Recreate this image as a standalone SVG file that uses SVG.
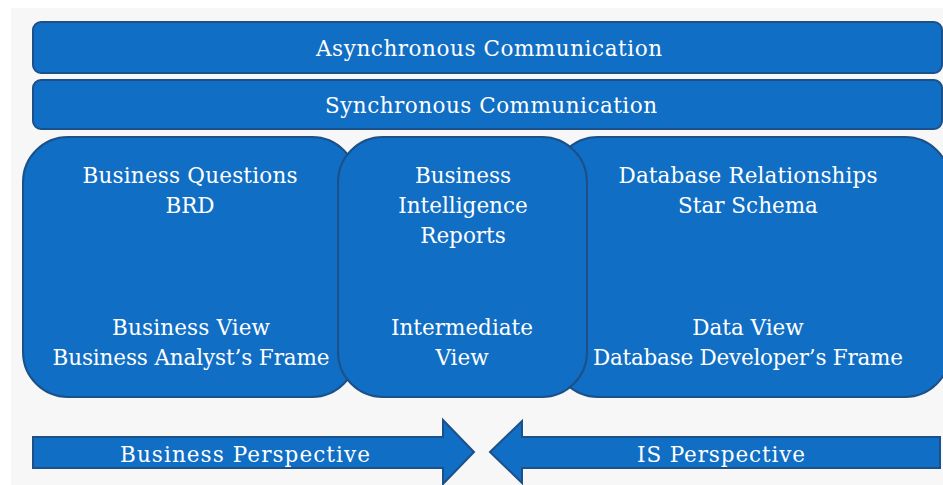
<svg xmlns="http://www.w3.org/2000/svg" width="943" height="485" viewBox="0 0 943 485">
  <defs>
    <style>
      .shape { fill: #106ec4; stroke: #1c5088; stroke-width: 2; }
      .label { fill: #ffffff; font-family: "DejaVu Serif", "Liberation Serif", serif; font-size: 21.5px; text-anchor: middle; }
    </style>
  </defs>

  <!-- page background -->
  <rect x="0" y="0" width="943" height="485" fill="#ffffff"/>
  <rect x="11" y="8" width="932" height="477" fill="#f7f7f7"/>

  <!-- communication bands -->
  <g id="async-communication">
    <rect class="shape" x="33" y="22" width="909" height="51" rx="8" ry="8"/>
    <text class="label" x="489" y="56" textLength="346">Asynchronous Communication</text>
  </g>
  <g id="sync-communication">
    <rect class="shape" x="33" y="80" width="909" height="49" rx="8" ry="8"/>
    <text class="label" x="491" y="113" textLength="332">Synchronous Communication</text>
  </g>

  <!-- view panels: outer panels first, intermediate panel drawn on top -->
  <g id="business-view">
    <rect class="shape" x="23" y="137" width="334" height="260" rx="45" ry="45"/>
    <text class="label" x="190" y="183" textLength="215">Business Questions</text>
    <text class="label" x="190" y="213">BRD</text>
    <text class="label" x="191" y="335" textLength="158">Business View</text>
    <text class="label" x="191" y="365" textLength="277">Business Analyst’s Frame</text>
  </g>
  <g id="data-view">
    <rect class="shape" x="553" y="137" width="397" height="260" rx="45" ry="45"/>
    <text class="label" x="748" y="183" textLength="259">Database Relationships</text>
    <text class="label" x="748" y="213">Star Schema</text>
    <text class="label" x="748" y="335">Data View</text>
    <text class="label" x="748" y="365" textLength="310">Database Developer’s Frame</text>
  </g>
  <g id="intermediate-view">
    <rect class="shape" x="338" y="137" width="249" height="260" rx="45" ry="45"/>
    <text class="label" x="463" y="183">Business</text>
    <text class="label" x="463" y="213">Intelligence</text>
    <text class="label" x="463" y="243">Reports</text>
    <text class="label" x="462" y="335">Intermediate</text>
    <text class="label" x="462" y="365">View</text>
  </g>

  <!-- perspective arrows -->
  <g id="connectors">
    <g id="business-perspective">
      <polygon class="shape" points="33,437 443,437 443,420 474,452 443,484 443,468 33,468"/>
      <text class="label" x="245" y="462" textLength="250">Business Perspective</text>
    </g>
    <g id="is-perspective">
      <polygon class="shape" points="490,452 522,421 522,437 940,437 940,468 522,468 522,483"/>
      <text class="label" x="721" y="462" textLength="168">IS Perspective</text>
    </g>
  </g>
</svg>
